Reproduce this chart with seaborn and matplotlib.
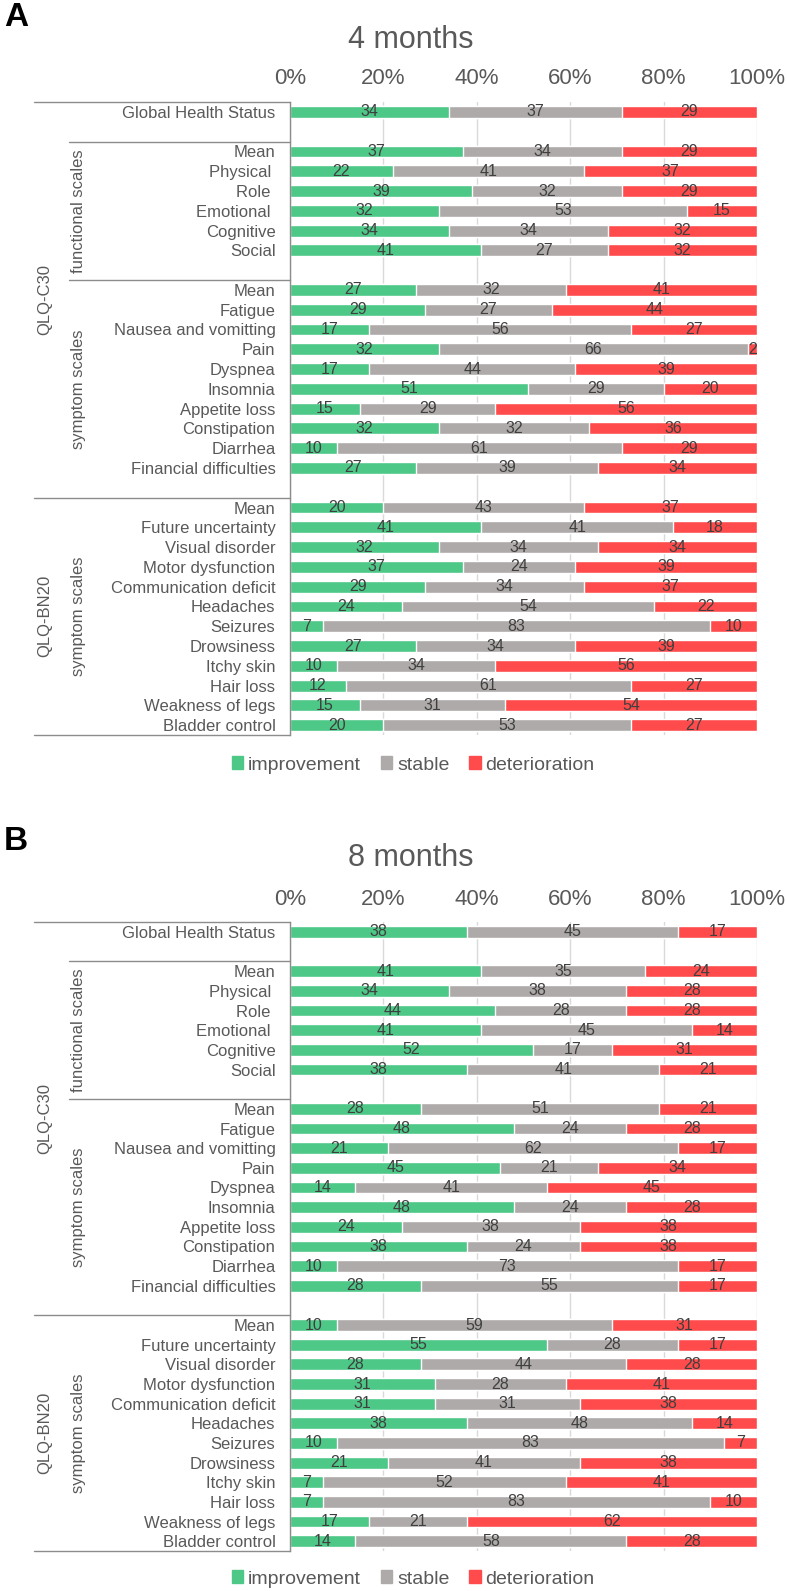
import matplotlib
matplotlib.use("Agg")
import matplotlib.pyplot as plt
import matplotlib.transforms as mtransforms
from matplotlib.patches import Patch
import pandas as pd
import seaborn as sns

# row names (gaps between groups are skipped in row_pos)
row_labels = ["Global Health Status",
              "Mean", "Physical ", "Role ", "Emotional ", "Cognitive", "Social",
              "Mean", "Fatigue", "Nausea and vomitting", "Pain", "Dyspnea", "Insomnia",
              "Appetite loss", "Constipation", "Diarrhea", "Financial difficulties",
              "Mean", "Future uncertainty", "Visual disorder", "Motor dysfunction",
              "Communication deficit", "Headaches", "Seizures", "Drowsiness",
              "Itchy skin", "Hair loss", "Weakness of legs", "Bladder control"]
row_pos = [0] + list(range(2, 8)) + list(range(9, 19)) + list(range(20, 32))

# 4 months
imp_4 = [34, 37, 22, 39, 32, 34, 41, 27, 29, 17, 32, 17, 51, 15, 32, 10, 27,
         20, 41, 32, 37, 29, 24, 7, 27, 10, 12, 15, 20]
sta_4 = [37, 34, 41, 32, 53, 34, 27, 32, 27, 56, 66, 44, 29, 29, 32, 61, 39,
         43, 41, 34, 24, 34, 54, 83, 34, 34, 61, 31, 53]
det_4 = [29, 29, 37, 29, 15, 32, 32, 41, 44, 27, 2, 39, 20, 56, 36, 29, 34,
         37, 18, 34, 39, 37, 22, 10, 39, 56, 27, 54, 27]

# 8 months
imp_8 = [38, 41, 34, 44, 41, 52, 38, 28, 48, 21, 45, 14, 48, 24, 38, 10, 28,
         10, 55, 28, 31, 31, 38, 10, 21, 7, 7, 17, 14]
sta_8 = [45, 35, 38, 28, 45, 17, 41, 51, 24, 62, 21, 41, 24, 38, 24, 73, 55,
         59, 28, 44, 28, 31, 48, 83, 41, 52, 83, 21, 58]
det_8 = [17, 24, 28, 28, 14, 31, 21, 21, 28, 17, 34, 45, 28, 38, 38, 17, 17,
         31, 17, 28, 41, 38, 14, 7, 38, 41, 10, 62, 28]

series_names = ["improvement", "stable", "deterioration"]
GREEN = "#4DC887"
GREY = "#AEAAA9"
RED = "#FF4B4B"
TXT = "#595959"
LINE = "#8C8C8C"

sns.set_style("white")
plt.rcParams["font.family"] = ["Liberation Sans", "DejaVu Sans"]


def draw_panel(fig, rect, imp, sta, det, title, letter, title_y, letter_y, legend_y):
    ax = fig.add_axes(rect)
    df = pd.DataFrame({"row": row_pos, "label": row_labels,
                       "improvement": imp, "stable": sta, "deterioration": det})
    df["upto_stable"] = df["improvement"] + df["stable"]
    df["upto_all"] = df["upto_stable"] + df["deterioration"]

    # stacked bars: draw cumulative totals back to front
    for col, c in [("upto_all", RED), ("upto_stable", GREY), ("improvement", GREEN)]:
        sns.barplot(data=df, x=col, y="row", orient="h", native_scale=True,
                    color=c, width=0.6, saturation=1, errorbar=None, ax=ax)

    # value labels in the middle of each segment
    for _, r in df.iterrows():
        starts = [0, r["improvement"], r["upto_stable"]]
        for s, name in zip(starts, series_names):
            v = r[name]
            ax.text(s + v / 2, r["row"], str(v), ha="center", va="center",
                    fontsize=11.5, color="#3F3F3F")

    ax.set_xlim(0, 100)
    ax.set_ylim(31.5, -0.5)
    ax.set_xticks(range(0, 101, 20))
    ax.set_xticklabels([f"{v}%" for v in range(0, 101, 20)])
    ax.xaxis.tick_top()
    ax.set_yticks(row_pos)
    ax.set_yticklabels(df["label"])
    ax.set_xlabel("")
    ax.set_ylabel("")
    ax.tick_params(axis="x", length=0, pad=9, labelsize=16, labelcolor=TXT)
    ax.tick_params(axis="y", length=0, pad=10.5, labelsize=12, labelcolor=TXT)
    ax.set_axisbelow(True)
    ax.xaxis.grid(True, color="#D9D9D9", lw=1)
    ax.yaxis.grid(False)
    for s in ["top", "right", "bottom"]:
        ax.spines[s].set_visible(False)
    ax.spines["left"].set_color(LINE)
    ax.spines["left"].set_linewidth(1)

    # bracket lines and group names on the left
    trans = mtransforms.blended_transform_factory(ax.transAxes, ax.transData)
    for x0, y in [(-0.548, -0.5), (-0.473, 1.5), (-0.473, 8.5), (-0.548, 19.5), (-0.548, 31.5)]:
        ax.plot([x0, 0], [y, y], transform=trans, clip_on=False, color=LINE, lw=1)
    for x, y, t in [(-0.525, 9.5, "QLQ-C30"), (-0.452, 5, "functional scales"),
                    (-0.452, 14, "symptom scales"), (-0.525, 25.5, "QLQ-BN20"),
                    (-0.452, 25.5, "symptom scales")]:
        ax.text(x, y, t, transform=trans, rotation=90, ha="center", va="center",
                fontsize=12, color=TXT)

    fig.text(0.522, title_y, title, ha="center", va="center", fontsize=22, color=TXT)
    fig.text(0.005, letter_y, letter, ha="left", va="center", fontsize=24,
             fontweight="bold", color="black")

    handles = [Patch(color=c) for c in [GREEN, GREY, RED]]
    fig.legend(handles, series_names, loc="center", bbox_to_anchor=(0.525, legend_y),
               ncol=3, frameon=False, fontsize=14, labelcolor=TXT,
               handlelength=0.6, handleheight=0.6, handletextpad=0.25,
               columnspacing=1.0)
    return ax


fig = plt.figure(figsize=(7.87, 15.91), dpi=100)
draw_panel(fig, [0.3685, 0.538, 0.5934, 0.3979], imp_4, sta_4, det_4,
           "4 months", "A", 1 - 40 / 1591, 1 - 18 / 1591, 1 - 765 / 1591)
draw_panel(fig, [0.3685, 0.0251, 0.5934, 0.3953], imp_8, sta_8, det_8,
           "8 months", "B", 1 - 858 / 1591, 1 - 841 / 1591, 1 - 1579 / 1591)

fig.savefig("out.png", dpi=100)
